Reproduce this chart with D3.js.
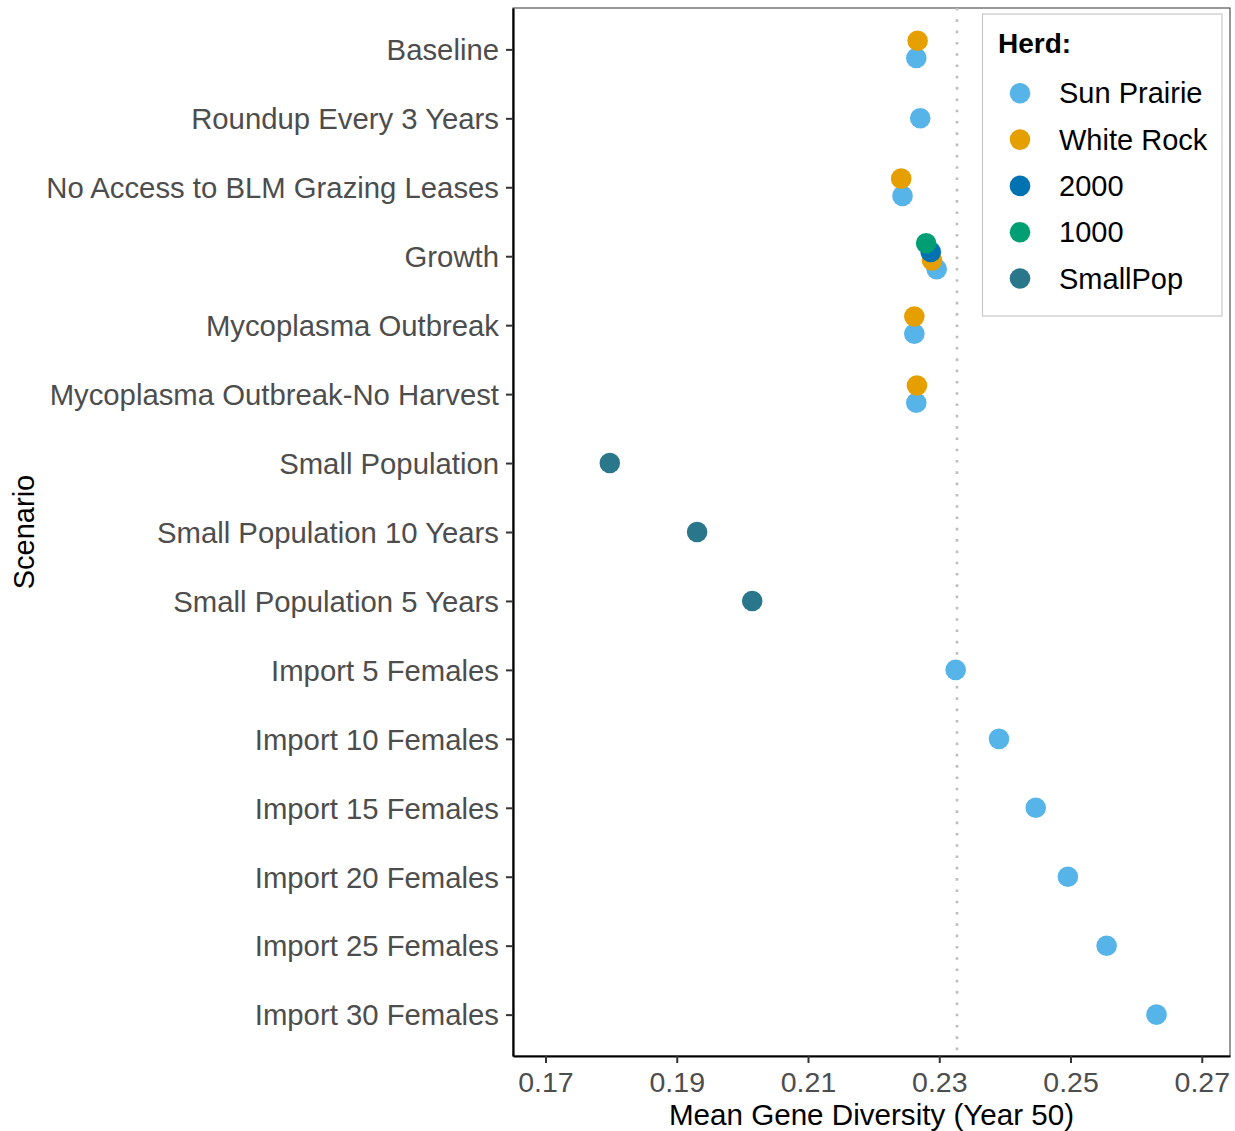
<!DOCTYPE html>
<html>
<head>
<meta charset="utf-8">
<script src="https://cdn.jsdelivr.net/npm/d3@7"></script>
<style>
  html, body { margin: 0; padding: 0; background: #fff; }
  svg { display: block; font-family: "Liberation Sans", Arial, sans-serif; }
</style>
</head>
<body>
<svg id="chart" width="1235" height="1131"></svg>
<script>
// Scenarios, top to bottom
const scenarios = [
  "Baseline",
  "Roundup Every 3 Years",
  "No Access to BLM Grazing Leases",
  "Growth",
  "Mycoplasma Outbreak",
  "Mycoplasma Outbreak-No Harvest",
  "Small Population",
  "Small Population 10 Years",
  "Small Population 5 Years",
  "Import 5 Females",
  "Import 10 Females",
  "Import 15 Females",
  "Import 20 Females",
  "Import 25 Females",
  "Import 30 Females"
];

// Herd groups (legend order) and colours
const herds = ["Sun Prairie", "White Rock", "2000", "1000", "SmallPop"];
const herdColors = ["#56B4E9", "#E69F00", "#0072B2", "#009E73", "#2A778C"];

// Mean gene diversity at year 50, per herd, aligned with scenarios (null = not simulated)
const sunPrairie = [0.2265, 0.2271, 0.2244, 0.2296, 0.2262, 0.2265, null, null, null,
                    0.2325, 0.2391, 0.2447, 0.2496, 0.2555, 0.2631];
const whiteRock  = [0.2267, null, 0.2242, 0.2289, 0.2262, 0.2266, null, null, null,
                    null, null, null, null, null, null];
const herd2000   = [null, null, null, 0.2287, null, null, null, null, null,
                    null, null, null, null, null, null];
const herd1000   = [null, null, null, 0.2280, null, null, null, null, null,
                    null, null, null, null, null, null];
const smallPop   = [null, null, null, null, null, null, 0.1798, 0.1931, 0.2015,
                    null, null, null, null, null, null];

// Reference line value and x-axis ticks
const referenceValue = 0.2327;
const xTicks = [0.17, 0.19, 0.21, 0.23, 0.25, 0.27];

const seriesValues = [sunPrairie, whiteRock, herd2000, herd1000, smallPop];

// Long-format rows
const rows = [];
herds.forEach((h, hi) => {
  seriesValues[hi].forEach((v, si) => {
    if (v !== null) rows.push({ herd: h, herdIndex: hi, scenario: scenarios[si], value: v });
  });
});

// Dodge: within each scenario, stack groups with the highest legend index at top
scenarios.forEach(s => {
  const grp = rows.filter(r => r.scenario === s).sort((a, b) => b.herdIndex - a.herdIndex);
  grp.forEach((r, k) => { r.slot = k; r.n = grp.length; });
});

const panel = { left: 513, right: 1230, top: 8, bottom: 1056 };
const svg = d3.select("#chart");

const x = d3.scaleLinear().domain([0.16505, 0.2743]).range([panel.left, panel.right]);
const y = d3.scalePoint().domain(scenarios).range([panel.top, panel.bottom]).padding(0.6);
const color = d3.scaleOrdinal().domain(herds).range(herdColors);
const dodgeWidth = y.step() * 0.5;

const fontSize = 29.3;

// Panel border (thin top/right), heavy left/bottom axis lines
svg.append("rect")
  .attr("x", panel.left).attr("y", panel.top)
  .attr("width", panel.right - panel.left).attr("height", panel.bottom - panel.top)
  .attr("fill", "none").attr("stroke", "#333").attr("stroke-width", 1);

// Dotted reference line
svg.append("line")
  .attr("x1", x(referenceValue)).attr("x2", x(referenceValue))
  .attr("y1", panel.top).attr("y2", panel.bottom)
  .attr("stroke", "#bdbdbd").attr("stroke-width", 2.6)
  .attr("stroke-dasharray", "2.6,8.7");

// Points
svg.append("g").selectAll("circle")
  .data(rows)
  .join("circle")
  .attr("cx", d => x(d.value))
  .attr("cy", d => y(d.scenario) + (d.slot - (d.n - 1) / 2) * (dodgeWidth / d.n))
  .attr("r", 10.3)
  .attr("fill", d => color(d.herd));

// Y axis
const yAxis = svg.append("g")
  .attr("transform", `translate(${panel.left},0)`)
  .call(d3.axisLeft(y).tickSize(7).tickSizeOuter(0).tickPadding(7));
yAxis.select(".domain").attr("stroke", "#000").attr("stroke-width", 2.2);
yAxis.selectAll(".tick line").attr("stroke", "#333").attr("stroke-width", 2);
yAxis.selectAll(".tick text")
  .attr("fill", "#4d4d4d").style("font-size", fontSize + "px")
  .attr("font-family", null).attr("dy", "0.35em");

// X axis
const xAxis = svg.append("g")
  .attr("transform", `translate(0,${panel.bottom})`)
  .call(d3.axisBottom(x).tickValues(xTicks).tickFormat(d3.format(".2f"))
    .tickSize(7).tickSizeOuter(0).tickPadding(9));
xAxis.select(".domain").attr("stroke", "#000").attr("stroke-width", 2.2);
xAxis.selectAll(".tick line").attr("stroke", "#333").attr("stroke-width", 2);
xAxis.selectAll(".tick text")
  .attr("fill", "#4d4d4d").style("font-size", "28.5px")
  .attr("font-family", null).attr("dy", "0.71em");

// Axis titles
svg.append("text")
  .attr("x", (panel.left + panel.right) / 2).attr("y", 1125)
  .attr("text-anchor", "middle").attr("fill", "#000")
  .style("font-size", "29.6px")
  .text("Mean Gene Diversity (Year 50)");

svg.append("text")
  .attr("transform", `translate(34,${(panel.top + panel.bottom) / 2}) rotate(-90)`)
  .attr("text-anchor", "middle").attr("fill", "#000")
  .style("font-size", "29px")
  .text("Scenario");

// Legend
const legend = svg.append("g").attr("transform", "translate(982.5,14)");
legend.append("rect")
  .attr("width", 239.5).attr("height", 302)
  .attr("fill", "#fff").attr("stroke", "#c8c8c8").attr("stroke-width", 1.2);
legend.append("text")
  .attr("x", 15.5).attr("y", 38.5)
  .attr("font-weight", "bold").attr("fill", "#000")
  .style("font-size", "28px")
  .text("Herd:");
const items = legend.selectAll("g.item")
  .data(herds)
  .join("g")
  .attr("class", "item")
  .attr("transform", (d, i) => `translate(0,${79.3 + i * 46.3})`);
items.append("circle").attr("cx", 37.5).attr("cy", 0).attr("r", 10.3)
  .attr("fill", d => color(d));
items.append("text").attr("x", 76.5).attr("y", 0).attr("dy", "0.35em")
  .attr("fill", "#000").style("font-size", "29px")
  .text(d => d);
</script>
</body>
</html>
